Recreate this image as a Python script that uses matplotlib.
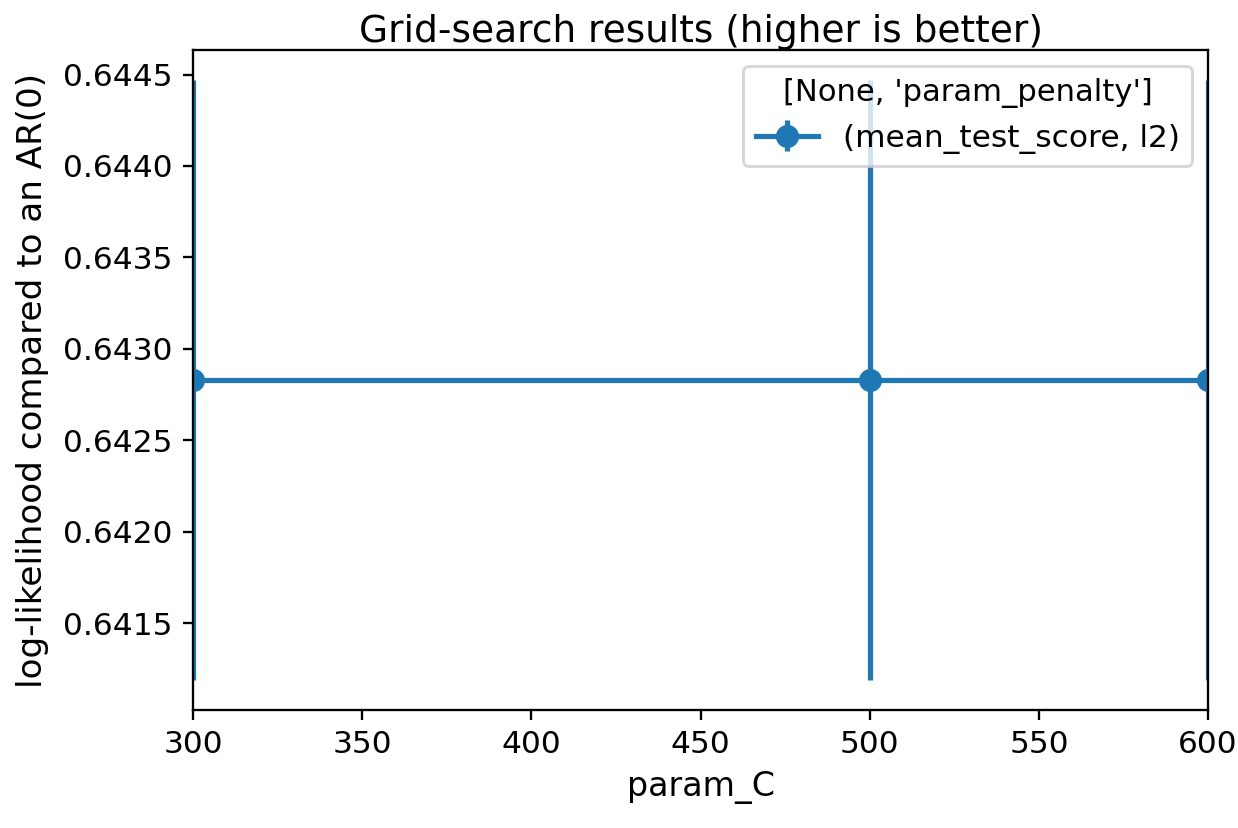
import matplotlib
matplotlib.use('Agg')
import matplotlib.pyplot as plt

# Grid-search results
param_C = [300, 500, 600]
mean_test_score = [0.64283, 0.64283, 0.64283]
std_test_score = [0.00164, 0.00164, 0.00164]

fig = plt.figure(figsize=(1238 / 208, 828 / 208), dpi=208)
ax = fig.add_axes([0.156, 0.1425, 0.8198, 0.7971])

ax.errorbar(param_C, mean_test_score, yerr=std_test_score,
            marker='o', markersize=7, linewidth=1.8, color='#1f77b4',
            label='(mean_test_score, l2)')

ax.set_xlim(300, 600)
ax.tick_params(labelsize=10.8)
ax.set_title('Grid-search results (higher is better)', fontsize=13, pad=1.5)
ax.set_xlabel('param_C', fontsize=11.5)
ax.set_ylabel('log-likelihood compared to an AR(0)', fontsize=11.8, labelpad=5)
ax.legend(title="[None, 'param_penalty']", loc='upper right',
          fontsize=10.8, title_fontsize=10.6)

fig.savefig('out.png', dpi=208)
